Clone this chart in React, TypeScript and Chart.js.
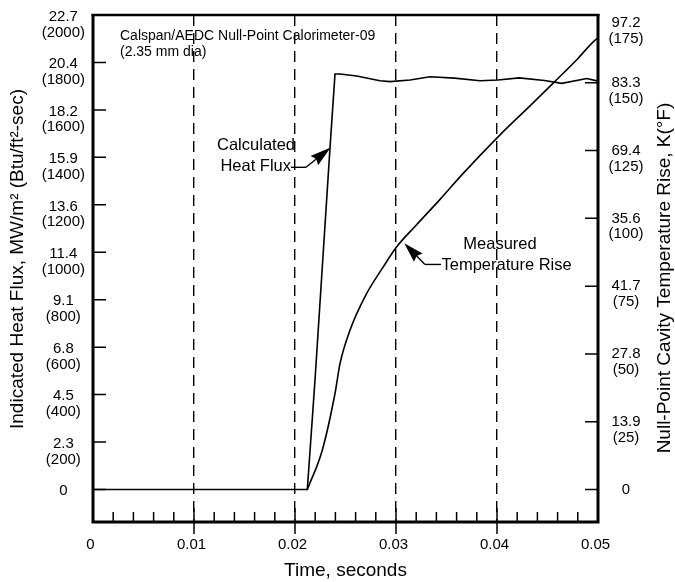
import React, { useEffect, useRef } from 'react';
import { Chart, registerables } from 'chart.js';

Chart.register(...registerables);

// ---- data ----
const TIME_HEAT_FLUX = [0, 0.02122, 0.02198, 0.02347, 0.02396, 0.02446, 0.02611, 0.02842, 0.0294, 0.03139, 0.03337, 0.0358, 0.03832, 0.0401, 0.0422, 0.0447, 0.04641, 0.0489, 0.05];
const HEAT_FLUX_BTU = [0, 0, 461, 1443, 1751, 1751, 1743, 1723, 1719, 1726, 1740, 1734, 1723, 1726, 1735, 1724, 1712, 1732, 1721];

const TIME_TEMP = [0.02122, 0.0227, 0.02396, 0.02446, 0.02545, 0.0271, 0.02874, 0.03007, 0.03188, 0.03436, 0.03663, 0.0403, 0.04327, 0.04554, 0.04792, 0.0495, 0.05];
const TEMP_RISE_F = [0, 14.5, 35.4, 46.5, 58.8, 72.3, 82.1, 89.5, 97.0, 107.0, 116.5, 130.8, 141.5, 149.8, 158.6, 165.0, 166.6];

const X_TICKS = [0, 0.01, 0.02, 0.03, 0.04, 0.05];
const X_LABELS = ['0', '0.01', '0.02', '0.03', '0.04', '0.05'];
const X_MINOR = [0.002, 0.004, 0.006, 0.008, 0.012, 0.014, 0.016, 0.018, 0.022, 0.024, 0.026, 0.028, 0.032, 0.034, 0.036, 0.038, 0.042, 0.044, 0.046, 0.048];

const LEFT_BTU = [0, 200, 400, 600, 800, 1000, 1200, 1400, 1600, 1800, 2000];
const LEFT_MW = ['0', '2.3', '4.5', '6.8', '9.1', '11.4', '13.6', '15.9', '18.2', '20.4', '22.7'];
const LEFT_MIN = -137;
const LEFT_MAX = 2000;

const RIGHT_F = [0, 25, 50, 75, 100, 125, 150, 175];
const RIGHT_K = ['0', '13.9', '27.8', '41.7', '35.6', '69.4', '83.3', '97.2'];
const RIGHT_MAX = 175;
const RIGHT_MIN = (LEFT_MIN * RIGHT_MAX) / LEFT_MAX;

// annotation anchors (data coordinates)
const HF_ARROW = { tipT: 0.02353, tipV: 1442, elbowT: 0.02109, elbowV: 1358 };
const TEMP_ARROW = { tipT: 0.03082, tipV: 90.8, elbowT: 0.03287, elbowV: 83.0 };

const FONT = "'Liberation Sans', Arial, Helvetica, sans-serif";

function drawArrow(ctx: CanvasRenderingContext2D, fx: number, fy: number, tx: number, ty: number, len: number, halfW: number) {
  const ang = Math.atan2(ty - fy, tx - fx);
  const c = Math.cos(ang), s = Math.sin(ang);
  ctx.beginPath();
  ctx.moveTo(fx, fy);
  ctx.lineTo(tx - c * len * 0.8, ty - s * len * 0.8);
  ctx.stroke();
  const bx = tx - c * len, by = ty - s * len;
  ctx.beginPath();
  ctx.moveTo(tx, ty);
  ctx.lineTo(bx + s * halfW, by - c * halfW);
  ctx.lineTo(tx - c * len * 0.88, ty - s * len * 0.88);
  ctx.lineTo(bx - s * halfW, by + c * halfW);
  ctx.closePath();
  ctx.fill();
}

const decorPlugin = {
  id: 'decor',
  afterDraw(chart: any) {
    const { ctx, chartArea: a, scales } = chart;
    const x = scales.x, yL = scales.y, yR = scales.y2;
    ctx.save();
    ctx.strokeStyle = '#000';
    ctx.fillStyle = '#000';
    ctx.lineCap = 'butt';

    // inner ticks
    ctx.lineWidth = 1.5;
    ctx.beginPath();
    LEFT_BTU.forEach((v) => {
      if (v >= LEFT_MAX) return;
      const py = yL.getPixelForValue(v);
      ctx.moveTo(a.left, py);
      ctx.lineTo(a.left + 13, py);
    });
    RIGHT_F.forEach((v) => {
      if (v >= RIGHT_MAX) return;
      const py = yR.getPixelForValue(v);
      ctx.moveTo(a.right - 13, py);
      ctx.lineTo(a.right, py);
    });
    X_MINOR.forEach((v) => {
      const px = x.getPixelForValue(v);
      ctx.moveTo(px, a.bottom);
      ctx.lineTo(px, a.bottom - 10);
    });
    X_TICKS.forEach((v, i) => {
      if (i === 0 || i === X_TICKS.length - 1) return;
      const px = x.getPixelForValue(v);
      ctx.moveTo(px, a.bottom - 14);
      ctx.lineTo(px, a.bottom + 12);
    });
    ctx.stroke();

    // frame
    ctx.lineWidth = 3;
    ctx.beginPath();
    ctx.moveTo(a.left, a.top - 1);
    ctx.lineTo(a.left, a.bottom + 1.5);
    ctx.moveTo(a.left - 1.5, a.bottom);
    ctx.lineTo(a.right + 1.5, a.bottom);
    ctx.moveTo(a.right, a.bottom + 1.5);
    ctx.lineTo(a.right, a.top - 1);
    ctx.stroke();
    ctx.lineWidth = 2.5;
    ctx.beginPath();
    ctx.moveTo(a.left - 1.5, a.top);
    ctx.lineTo(a.right + 1.5, a.top);
    ctx.stroke();

    // header annotation
    ctx.textBaseline = 'middle';
    ctx.textAlign = 'left';
    ctx.font = `14px ${FONT}`;
    ctx.fillText('Calspan/AEDC Null-Point Calorimeter-09', a.left + 27, a.top + 21);
    ctx.fillText('(2.35 mm dia)', a.left + 27, a.top + 37);

    // heat flux callout
    ctx.lineWidth = 1.4;
    const hTx = x.getPixelForValue(HF_ARROW.tipT), hTy = yL.getPixelForValue(HF_ARROW.tipV);
    const hEx = x.getPixelForValue(HF_ARROW.elbowT), hEy = yL.getPixelForValue(HF_ARROW.elbowV);
    ctx.beginPath();
    ctx.moveTo(hEx - 15, hEy);
    ctx.lineTo(hEx, hEy);
    ctx.stroke();
    drawArrow(ctx, hEx, hEy, hTx, hTy, 21, 6);
    ctx.font = `16.5px ${FONT}`;
    ctx.textAlign = 'center';
    ctx.fillText('Calculated', hEx - 50, hEy - 22);
    ctx.textAlign = 'right';
    ctx.fillText('Heat Flux', hEx - 15, hEy - 1);

    // temperature callout
    const tTx = x.getPixelForValue(TEMP_ARROW.tipT), tTy = yR.getPixelForValue(TEMP_ARROW.tipV);
    const tEx = x.getPixelForValue(TEMP_ARROW.elbowT), tEy = yR.getPixelForValue(TEMP_ARROW.elbowV);
    ctx.beginPath();
    ctx.moveTo(tEx, tEy);
    ctx.lineTo(tEx + 16, tEy);
    ctx.stroke();
    drawArrow(ctx, tEx, tEy, tTx, tTy, 20, 6);
    ctx.textAlign = 'center';
    ctx.fillText('Measured', tEx + 75, tEy - 19.5);
    ctx.textAlign = 'left';
    ctx.fillText('Temperature Rise', tEx + 16.5, tEy + 0.7);

    // axis titles (both read bottom-to-top)
    ctx.font = `19px ${FONT}`;
    ctx.textAlign = 'center';
    ctx.textBaseline = 'middle';
    ctx.save();
    ctx.translate(17.4, 259);
    ctx.rotate(-Math.PI / 2);
    ctx.fillText('Indicated Heat Flux, MW/m\u00B2 (Btu/ft\u00B2-sec)', 0, 0);
    ctx.restore();
    ctx.save();
    ctx.translate(chart.width - 10.6, 278);
    ctx.rotate(-Math.PI / 2);
    ctx.fillText('Null-Point Cavity Temperature Rise, K(\u00B0F)', 0, 0);
    ctx.restore();

    ctx.restore();
  },
};

export default function App() {
  const canvasRef = useRef<HTMLCanvasElement | null>(null);

  useEffect(() => {
    const canvas = canvasRef.current;
    if (!canvas) return;
    const tickFont = { family: FONT, size: 15, lineHeight: 1.05 };
    const chart = new Chart(canvas, {
      type: 'line',
      data: {
        datasets: [
          {
            label: 'Calculated Heat Flux',
            data: TIME_HEAT_FLUX.map((t, i) => ({ x: t, y: HEAT_FLUX_BTU[i] })),
            yAxisID: 'y',
            borderColor: '#000',
            borderWidth: 1.6,
            pointRadius: 0,
            tension: 0,
            fill: false,
          },
          {
            label: 'Measured Temperature Rise',
            data: TIME_TEMP.map((t, i) => ({ x: t, y: TEMP_RISE_F[i] })),
            yAxisID: 'y2',
            borderColor: '#000',
            borderWidth: 1.6,
            pointRadius: 0,
            cubicInterpolationMode: 'monotone',
            fill: false,
          },
        ],
      },
      options: {
        animation: false,
        responsive: false,
        maintainAspectRatio: false,
        devicePixelRatio: 1,
        layout: { padding: { top: 15, left: 0, right: 0, bottom: 0 } },
        plugins: { legend: { display: false }, tooltip: { enabled: false } },
        scales: {
          x: {
            type: 'linear',
            min: 0,
            max: 0.05,
            afterBuildTicks: (s: any) => {
              s.ticks = X_TICKS.map((v) => ({ value: v }));
            },
            afterFit: (s: any) => {
              s.height = 60;
              s.paddingLeft = 0;
              s.paddingRight = 0;
            },
            grid: {
              display: true,
              drawOnChartArea: true,
              drawTicks: false,
              lineWidth: 1.4,
              color: (c: any) => (c.index === 0 || c.index === X_TICKS.length - 1 ? 'rgba(0,0,0,0)' : '#000'),
            },
            border: { display: false, dash: [11, 7] },
            ticks: {
              autoSkip: false,
              maxRotation: 0,
              padding: 14,
              labelOffset: -2.5,
              color: '#000',
              font: { family: FONT, size: 15, lineHeight: 1.2 },
              callback: (_v: any, i: number) => X_LABELS[i],
            },
            title: {
              display: true,
              text: 'Time, seconds',
              color: '#000',
              font: { family: FONT, size: 19, lineHeight: 1.2 },
              padding: { top: 0, bottom: 0 },
            },
          },
          y: {
            type: 'linear',
            position: 'left',
            min: LEFT_MIN,
            max: LEFT_MAX,
            afterBuildTicks: (s: any) => {
              s.ticks = LEFT_BTU.map((v) => ({ value: v }));
            },
            afterFit: (s: any) => {
              s.width = 93;
              s.paddingTop = 0;
              s.paddingBottom = 0;
            },
            grid: { display: false, drawTicks: false },
            border: { display: false },
            ticks: {
              autoSkip: false,
              crossAlign: 'center',
              padding: 8,
              labelOffset: 9.5,
              color: '#000',
              font: tickFont,
              callback: (_v: any, i: number) => (i === 0 ? [LEFT_MW[i], ''] : [LEFT_MW[i], `(${LEFT_BTU[i]})`]),
            },
          },
          y2: {
            type: 'linear',
            position: 'right',
            min: RIGHT_MIN,
            max: RIGHT_MAX,
            afterBuildTicks: (s: any) => {
              s.ticks = RIGHT_F.map((v) => ({ value: v }));
            },
            afterFit: (s: any) => {
              s.width = 77;
              s.paddingTop = 0;
              s.paddingBottom = 0;
            },
            grid: { display: false, drawTicks: false },
            border: { display: false },
            ticks: {
              autoSkip: false,
              crossAlign: 'center',
              padding: 10.5,
              labelOffset: 8,
              color: '#000',
              font: tickFont,
              callback: (_v: any, i: number) => {
                if (i === 0) return [RIGHT_K[i], ''];
                if (i === RIGHT_F.length - 1) return ['', RIGHT_K[i], `(${RIGHT_F[i]})`];
                return [RIGHT_K[i], `(${RIGHT_F[i]})`];
              },
            },
          },
        },
      } as any,
      plugins: [decorPlugin],
    });
    return () => chart.destroy();
  }, []);

  return (
    <div style={{ position: 'absolute', left: 0, top: 0, width: 675, height: 582, background: '#fff' }}>
      <canvas ref={canvasRef} width={675} height={582} style={{ display: 'block', width: 675, height: 582 }} />
    </div>
  );
}
